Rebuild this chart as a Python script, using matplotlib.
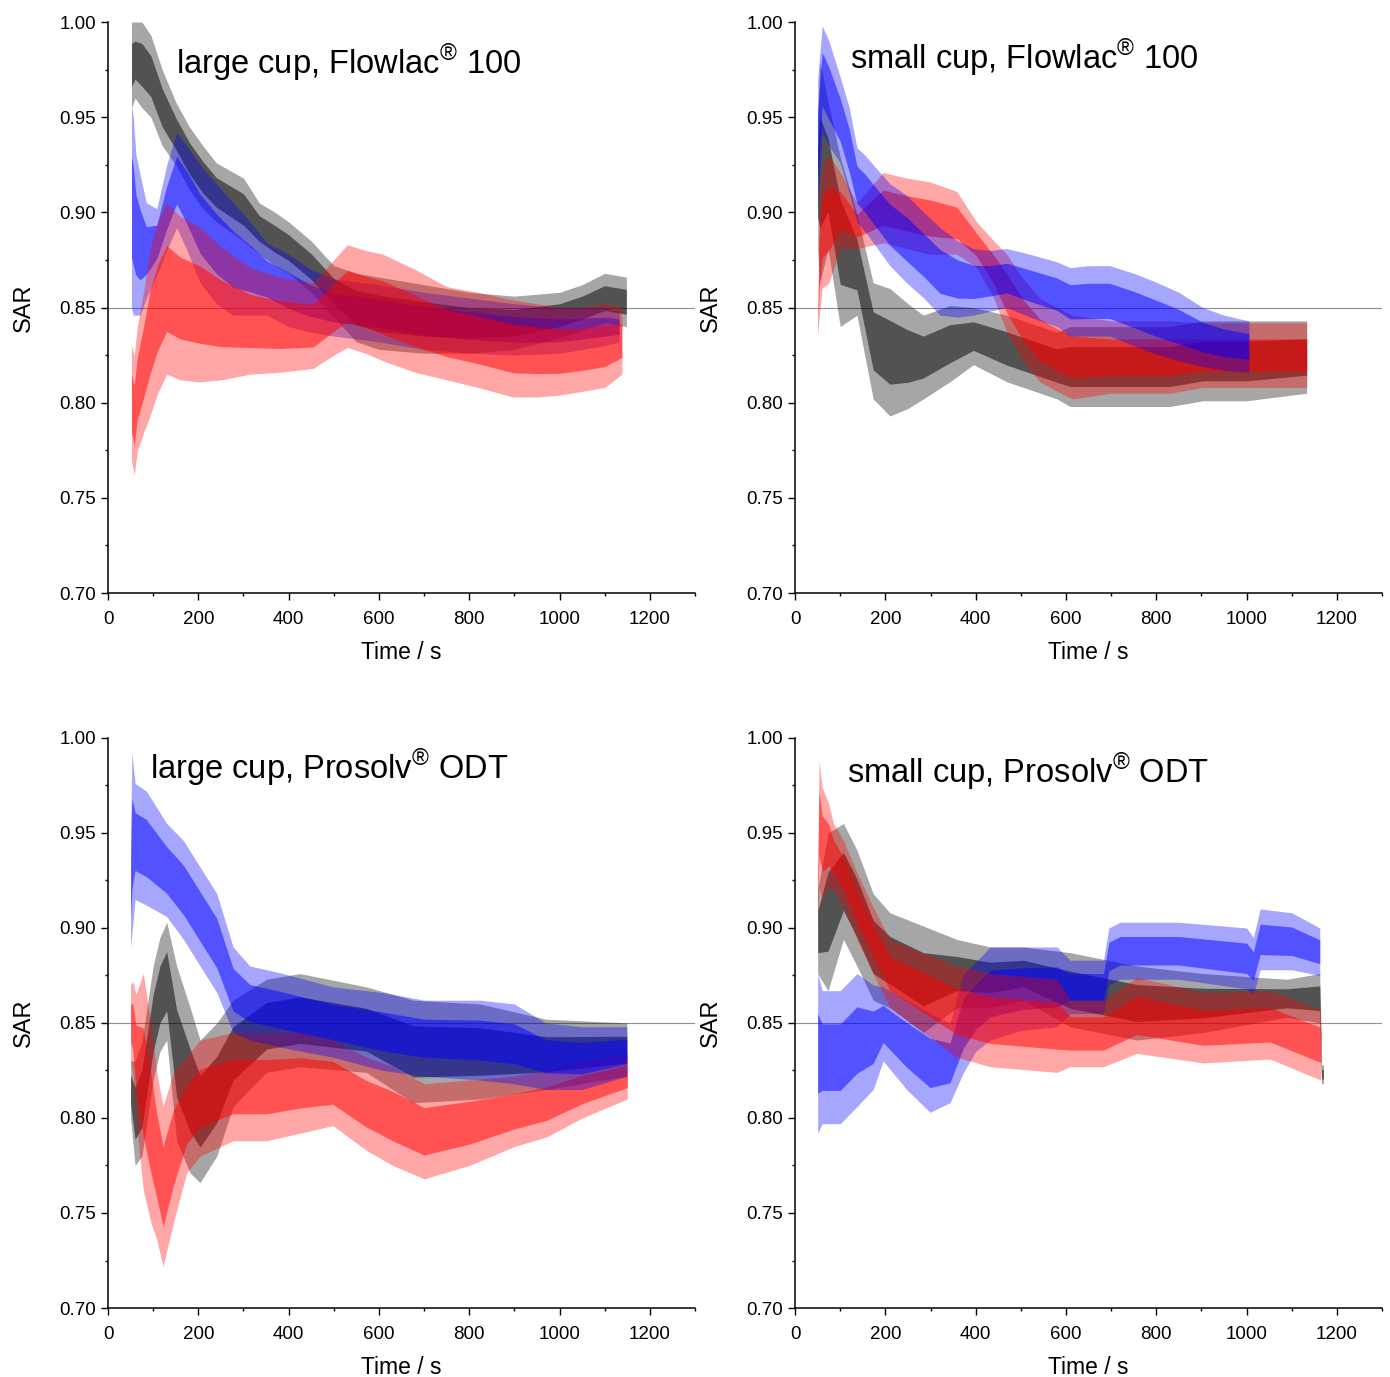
"""SAR traces for two cup sizes and two powders, drawn as min-max bands."""

import matplotlib.pyplot as plt
import numpy as np
from matplotlib.ticker import MultipleLocator

plt.rcParams["font.family"] = ["Liberation Sans", "DejaVu Sans"]
plt.rcParams["mathtext.fontset"] = "custom"
plt.rcParams["mathtext.rm"] = "Liberation Sans"

# --- large cup, Flowlac 100 -------------------------------------------------
tl_black_t = [52, 60, 75, 95, 120, 150, 180, 210, 240, 270, 300, 335, 370, 400, 450, 500, 550, 600, 700, 800, 900, 1000, 1050, 1100, 1148]
tl_black_hi = [1.00, 1.00, 1.00, 0.993, 0.975, 0.958, 0.945, 0.935, 0.926, 0.922, 0.918, 0.905, 0.900, 0.895, 0.885, 0.872, 0.868, 0.866, 0.862, 0.858, 0.856, 0.858, 0.862, 0.868, 0.866]
tl_black_lo = [0.955, 0.960, 0.955, 0.950, 0.935, 0.925, 0.912, 0.902, 0.895, 0.890, 0.885, 0.878, 0.872, 0.868, 0.858, 0.845, 0.832, 0.828, 0.826, 0.826, 0.828, 0.834, 0.838, 0.842, 0.840]

tl_blue_t = [52, 56, 62, 71, 85, 108, 130, 152, 175, 204, 240, 277, 315, 352, 400, 450, 500, 600, 700, 800, 900, 1000, 1100, 1132]
tl_blue_hi = [0.956, 0.950, 0.930, 0.920, 0.905, 0.902, 0.925, 0.942, 0.935, 0.925, 0.915, 0.905, 0.895, 0.884, 0.878, 0.870, 0.865, 0.862, 0.858, 0.855, 0.852, 0.850, 0.850, 0.848]
tl_blue_lo = [0.850, 0.846, 0.846, 0.846, 0.855, 0.867, 0.880, 0.892, 0.880, 0.863, 0.852, 0.846, 0.846, 0.846, 0.840, 0.837, 0.835, 0.832, 0.828, 0.826, 0.825, 0.826, 0.830, 0.832]

tl_red_t = [52, 58, 65, 80, 93, 110, 130, 160, 204, 250, 314, 380, 454, 500, 530, 570, 609, 680, 750, 820, 897, 950, 1000, 1050, 1100, 1138]
tl_red_hi = [0.830, 0.825, 0.840, 0.860, 0.881, 0.895, 0.905, 0.898, 0.892, 0.882, 0.871, 0.866, 0.863, 0.875, 0.883, 0.880, 0.878, 0.870, 0.861, 0.858, 0.854, 0.852, 0.850, 0.850, 0.852, 0.850]
tl_red_lo = [0.770, 0.762, 0.775, 0.785, 0.793, 0.805, 0.815, 0.812, 0.811, 0.812, 0.815, 0.816, 0.818, 0.825, 0.829, 0.826, 0.822, 0.816, 0.812, 0.808, 0.803, 0.803, 0.804, 0.806, 0.808, 0.815]

# --- small cup, Flowlac 100 -------------------------------------------------
tr_black_t = [50, 55, 73, 100, 137, 173, 210, 250, 284, 343, 395, 469, 580, 609, 700, 830, 903, 1000, 1133]
tr_black_hi = [0.950, 0.979, 0.958, 0.929, 0.899, 0.863, 0.860, 0.852, 0.846, 0.851, 0.850, 0.846, 0.837, 0.840, 0.840, 0.840, 0.843, 0.843, 0.843]
tr_black_lo = [0.880, 0.863, 0.881, 0.840, 0.846, 0.802, 0.793, 0.797, 0.802, 0.811, 0.820, 0.811, 0.802, 0.798, 0.798, 0.798, 0.801, 0.801, 0.805]

tr_red_t = [50, 53, 60, 75, 100, 137, 195, 247, 299, 358, 402, 440, 469, 505, 542, 580, 615, 700, 830, 903, 1000, 1133]
tr_red_hi = [0.840, 0.900, 0.925, 0.930, 0.921, 0.905, 0.921, 0.918, 0.916, 0.911, 0.895, 0.885, 0.878, 0.865, 0.855, 0.850, 0.846, 0.843, 0.843, 0.842, 0.842, 0.842]
tr_red_lo = [0.835, 0.845, 0.860, 0.863, 0.881, 0.881, 0.884, 0.881, 0.878, 0.878, 0.871, 0.855, 0.837, 0.822, 0.811, 0.806, 0.802, 0.805, 0.805, 0.808, 0.808, 0.808]

tr_blue_t = [50, 60, 75, 100, 120, 137, 155, 173, 210, 247, 285, 321, 360, 395, 430, 469, 520, 580, 609, 650, 697, 750, 793, 850, 903, 950, 1005]
tr_blue_hi = [0.970, 0.998, 0.990, 0.971, 0.955, 0.934, 0.930, 0.925, 0.915, 0.909, 0.900, 0.892, 0.885, 0.881, 0.880, 0.881, 0.878, 0.874, 0.871, 0.872, 0.872, 0.868, 0.864, 0.858, 0.850, 0.846, 0.843]
tr_blue_lo = [0.900, 0.942, 0.935, 0.926, 0.910, 0.895, 0.890, 0.884, 0.872, 0.863, 0.855, 0.846, 0.845, 0.846, 0.848, 0.850, 0.845, 0.840, 0.835, 0.835, 0.835, 0.830, 0.826, 0.822, 0.819, 0.817, 0.816]

# --- large cup, Prosolv ODT -------------------------------------------------
bl_black_t = [50, 60, 75, 100, 115, 130, 152, 182, 204, 241, 277, 351, 425, 572, 676, 824, 970, 1149]
bl_black_hi = [0.830, 0.830, 0.840, 0.880, 0.895, 0.903, 0.880, 0.858, 0.841, 0.850, 0.862, 0.873, 0.876, 0.869, 0.862, 0.860, 0.852, 0.850]
bl_black_lo = [0.800, 0.775, 0.780, 0.820, 0.835, 0.841, 0.788, 0.771, 0.766, 0.780, 0.806, 0.824, 0.827, 0.824, 0.808, 0.810, 0.815, 0.822]

bl_red_t = [50, 55, 62, 78, 95, 108, 122, 145, 174, 204, 277, 351, 425, 498, 572, 631, 700, 800, 900, 971, 1050, 1150]
bl_red_hi = [0.870, 0.872, 0.865, 0.876, 0.850, 0.824, 0.806, 0.824, 0.832, 0.841, 0.845, 0.845, 0.845, 0.841, 0.832, 0.827, 0.818, 0.820, 0.822, 0.825, 0.830, 0.834]
bl_red_lo = [0.830, 0.824, 0.800, 0.762, 0.745, 0.736, 0.722, 0.745, 0.771, 0.780, 0.788, 0.788, 0.792, 0.796, 0.783, 0.775, 0.768, 0.775, 0.785, 0.790, 0.800, 0.810]

bl_blue_t = [50, 53, 60, 85, 130, 167, 204, 241, 277, 314, 388, 498, 609, 700, 824, 900, 970, 1050, 1149]
bl_blue_hi = [0.950, 0.992, 0.976, 0.972, 0.955, 0.946, 0.932, 0.918, 0.890, 0.880, 0.876, 0.869, 0.866, 0.862, 0.862, 0.860, 0.850, 0.848, 0.848]
bl_blue_lo = [0.890, 0.897, 0.915, 0.912, 0.906, 0.894, 0.880, 0.866, 0.845, 0.841, 0.837, 0.832, 0.825, 0.822, 0.820, 0.818, 0.815, 0.815, 0.822]

# --- small cup, Prosolv ODT -------------------------------------------------
br_black_t = [50, 73, 107, 137, 173, 210, 284, 358, 432, 506, 609, 757, 904, 1089, 1162, 1166, 1170]
br_black_hi = [0.920, 0.950, 0.955, 0.941, 0.918, 0.908, 0.901, 0.894, 0.890, 0.890, 0.887, 0.880, 0.876, 0.873, 0.876, 0.828, 0.828]
br_black_lo = [0.876, 0.867, 0.894, 0.880, 0.862, 0.858, 0.845, 0.858, 0.858, 0.862, 0.848, 0.841, 0.845, 0.853, 0.850, 0.818, 0.818]

br_blue_t = [50, 60, 100, 137, 173, 195, 247, 299, 343, 373, 400, 432, 500, 580, 609, 683, 695, 720, 850, 1000, 1015, 1030, 1100, 1162]
br_blue_hi = [0.876, 0.867, 0.867, 0.876, 0.870, 0.869, 0.862, 0.855, 0.850, 0.876, 0.882, 0.890, 0.890, 0.890, 0.883, 0.883, 0.900, 0.903, 0.903, 0.900, 0.895, 0.910, 0.908, 0.900]
br_blue_lo = [0.792, 0.797, 0.797, 0.806, 0.815, 0.830, 0.815, 0.803, 0.808, 0.824, 0.835, 0.841, 0.846, 0.848, 0.855, 0.855, 0.870, 0.873, 0.873, 0.868, 0.865, 0.878, 0.878, 0.875]

br_red_t = [50, 53, 60, 75, 85, 107, 137, 173, 210, 284, 358, 432, 580, 609, 683, 757, 904, 1052, 1164]
br_red_hi = [0.930, 0.988, 0.974, 0.965, 0.955, 0.946, 0.929, 0.911, 0.894, 0.887, 0.880, 0.876, 0.873, 0.862, 0.862, 0.874, 0.866, 0.867, 0.857]
br_red_lo = [0.900, 0.922, 0.915, 0.922, 0.920, 0.911, 0.894, 0.876, 0.858, 0.845, 0.832, 0.827, 0.824, 0.827, 0.827, 0.834, 0.829, 0.831, 0.820]

titles = [
	r"large cup, Flowlac$^{\mathrm{®}}$ 100",
	r"small cup, Flowlac$^{\mathrm{®}}$ 100",
	r"large cup, Prosolv$^{\mathrm{®}}$ ODT",
	r"small cup, Prosolv$^{\mathrm{®}}$ ODT",
]
title_pos = [(0.116, 0.93), (0.094, 0.939), (0.072, 0.949), (0.089, 0.942)]

COLORS = {"black": "#000000", "blue": "#0000ff", "red": "#ff0000"}

panels = [
	[("black", tl_black_t, tl_black_lo, tl_black_hi),
	 ("blue", tl_blue_t, tl_blue_lo, tl_blue_hi),
	 ("red", tl_red_t, tl_red_lo, tl_red_hi)],
	[("black", tr_black_t, tr_black_lo, tr_black_hi),
	 ("red", tr_red_t, tr_red_lo, tr_red_hi),
	 ("blue", tr_blue_t, tr_blue_lo, tr_blue_hi)],
	[("black", bl_black_t, bl_black_lo, bl_black_hi),
	 ("red", bl_red_t, bl_red_lo, bl_red_hi),
	 ("blue", bl_blue_t, bl_blue_lo, bl_blue_hi)],
	[("black", br_black_t, br_black_lo, br_black_hi),
	 ("blue", br_blue_t, br_blue_lo, br_blue_hi),
	 ("red", br_red_t, br_red_lo, br_red_hi)],
]

# axes rectangles in figure fractions (left, bottom, width, height)
rects = [
	(0.0777, 0.5693, 0.4223, 0.4147),
	(0.5720, 0.5693, 0.4223, 0.4147),
	(0.0777, 0.0501, 0.4223, 0.4140),
	(0.5720, 0.0501, 0.4223, 0.4140),
]

fig = plt.figure(figsize=(13.9, 13.77), dpi=100)

for rect, series, title, (tx, ty) in zip(rects, panels, titles, title_pos):
	ax = fig.add_axes(rect)
	ax.axhline(0.85, color="#909090", linewidth=0.8, zorder=1)
	for z, (name, t, lo, hi) in enumerate(series):
		t = np.asarray(t, dtype=float)
		lo = np.asarray(lo)
		hi = np.asarray(hi)
		mid = (lo + hi) / 2
		half = (hi - lo) / 2
		col = COLORS[name]
		# outer envelope plus a denser core, mimicking the overplotted noise
		ax.fill_between(t, lo, hi, color=col, alpha=0.35, linewidth=0, zorder=2 + z)
		ax.fill_between(t, mid - 0.5 * half, mid + 0.5 * half, color=col, alpha=0.5,
						linewidth=0, zorder=2 + z)
	ax.set_xlim(0, 1300)
	ax.set_ylim(0.70, 1.00)
	ax.xaxis.set_major_locator(MultipleLocator(200))
	ax.xaxis.set_minor_locator(MultipleLocator(100))
	ax.yaxis.set_major_locator(MultipleLocator(0.05))
	ax.yaxis.set_minor_locator(MultipleLocator(0.025))
	ax.yaxis.set_major_formatter(plt.FormatStrFormatter("%.2f"))
	ax.spines["top"].set_visible(False)
	ax.spines["right"].set_visible(False)
	for sp in ("left", "bottom"):
		ax.spines[sp].set_linewidth(1.1)
	ax.tick_params(which="major", direction="out", length=5, width=1.0, labelsize=13.5)
	ax.tick_params(which="minor", direction="out", length=2.5, width=1.0)
	ax.tick_params(axis="x", which="major", pad=8)
	ax.set_xlabel("Time / s", fontsize=16.5, labelpad=9)
	ax.set_ylabel("SAR", fontsize=17, labelpad=18)
	ax.text(tx, ty, title, transform=ax.transAxes, fontsize=23.5, ha="left", va="center")

fig.savefig("out.png", dpi=100)
plt.close(fig)
